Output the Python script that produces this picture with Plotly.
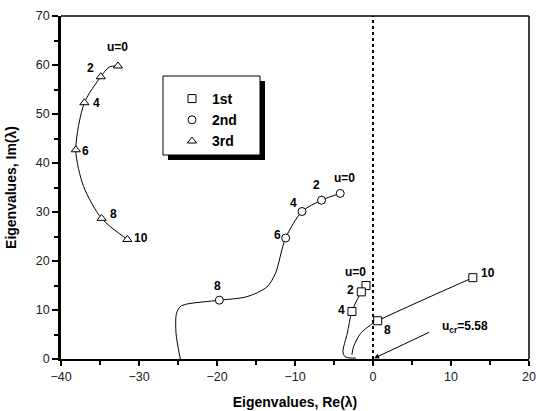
import plotly.graph_objects as go

# ---- data ----
# markers (u = 0,2,4,...)
m1_x = [-0.9, -1.5, -2.7, 0.6, 12.8]
m1_y = [15.0, 13.7, 9.7, 7.8, 16.6]
m1_u = ["u=0", "2", "4", "8", "10"]

m2_x = [-4.2, -6.6, -9.1, -11.2, -19.7]
m2_y = [33.8, 32.4, 30.1, 24.7, 12.0]
m2_u = ["u=0", "2", "4", "6", "8"]

m3_x = [-32.7, -34.9, -37.0, -38.1, -34.8, -31.5]
m3_y = [59.8, 57.6, 52.3, 42.7, 28.7, 24.4]
m3_u = ["u=0", "2", "4", "6", "8", "10"]

# continuous loci
c1a_x = [-0.9, -1.5, -2.7, -3.3, -3.85, -3.6, -2.9, -2.2]
c1a_y = [15.0, 13.7, 9.7, 5.2, 1.5, 0.5, 0.2, 0.2]
c1b_x = [-2.7, -2.5, -1.6, -0.35, 0.6, 12.8]
c1b_y = [0.9, 2.5, 5.2, 6.9, 7.8, 16.6]

c2_x = [-4.2, -6.6, -9.1, -11.2, -12.5, -13.6, -16.2, -19.7, -23.9, -24.7, -25.2, -25.25, -24.7]
c2_y = [33.8, 32.4, 30.1, 24.7, 17.5, 14.7, 12.7, 12.0, 11.2, 10.7, 9.3, 5.2, 0.0]

c3_x = [-32.7, -33.8, -34.9, -37.0, -38.1, -37.1, -34.8, -31.5]
c3_y = [59.8, 59.6, 57.6, 52.3, 42.7, 35.2, 28.7, 24.4]

# label positions
l1_x = [-2.3, -2.9, -4.1, 1.9, 14.8]
l1_y = [17.8, 14.1, 10.0, 5.9, 17.5]
l2_x = [-3.6, -7.3, -10.2, -12.3, -19.9]
l2_y = [36.9, 35.5, 31.8, 25.3, 14.9]
l3_x = [-32.8, -36.2, -35.5, -36.8, -33.3, -29.7]
l3_y = [63.7, 59.3, 52.2, 42.4, 29.6, 24.6]

ucr_text = "u<sub>cr</sub>=5.58"
ucr_xy = (11.8, 6.6)
ucr_tail = (7.4, 5.6)

FONT = "Liberation Sans, Arial, sans-serif"

fig = go.Figure()
line_style = dict(color="black", width=1, shape="spline", smoothing=0.8)
for cx, cy in [(c1a_x, c1a_y), (c1b_x, c1b_y), (c2_x, c2_y), (c3_x, c3_y)]:
    fig.add_trace(go.Scatter(x=cx, y=cy, mode="lines", line=line_style,
                             showlegend=False, hoverinfo="skip"))

for mx, my, sym, name in [(m1_x, m1_y, "square", "1st"),
                          (m2_x, m2_y, "circle", "2nd"),
                          (m3_x, m3_y, "triangle-up", "3rd")]:
    fig.add_trace(go.Scatter(x=mx, y=my, mode="markers", name=name,
                             marker=dict(symbol=sym, size=8, color="white",
                                         line=dict(color="black", width=1))))

ann = []
for lx, ly, lt in [(l1_x, l1_y, m1_u), (l2_x, l2_y, m2_u), (l3_x, l3_y, m3_u)]:
    for x, y, t in zip(lx, ly, lt):
        ann.append(dict(x=x, y=y, text="<b>%s</b>" % t, showarrow=False,
                        font=dict(family=FONT, size=12, color="black")))
ann.append(dict(x=ucr_xy[0], y=ucr_xy[1], text="<b>%s</b>" % ucr_text, showarrow=False,
                font=dict(family=FONT, size=12, color="black")))
ann.append(dict(x=0.15, y=0.15, ax=ucr_tail[0], ay=ucr_tail[1], axref="x", ayref="y",
                xref="x", yref="y", text="", showarrow=True, arrowhead=2,
                arrowsize=1, arrowwidth=1, arrowcolor="black"))

def px(xp):
    return (xp - 61) / 468.0

def py(yp):
    return (359 - yp) / 343.0

shapes = [
    dict(type="line", xref="x", yref="y", x0=0, x1=0, y0=0, y1=70,
         line=dict(color="black", width=2, dash="dot")),
    dict(type="line", xref="paper", yref="paper", x0=0, x1=1, y0=1, y1=1,
         line=dict(color="black", width=1.5)),
    dict(type="line", xref="paper", yref="paper", x0=1, x1=1, y0=0, y1=1,
         line=dict(color="black", width=1.5)),
    dict(type="rect", xref="paper", yref="paper", x0=px(168), x1=px(265),
         y0=py(160), y1=py(81), fillcolor="black", line=dict(width=0)),
    dict(type="rect", xref="paper", yref="paper", x0=px(163), x1=px(260),
         y0=py(155), y1=py(76), fillcolor="white", line=dict(color="black", width=1)),
]

fig.update_layout(
    width=536, height=411,
    margin=dict(l=61, r=7, t=16, b=52, autoexpand=False),
    paper_bgcolor="white", plot_bgcolor="white",
    font=dict(family=FONT, size=12, color="#222"),
    annotations=ann, shapes=shapes,
    showlegend=True,
    legend=dict(x=px(172), y=py(83), xanchor="left", yanchor="top",
                bgcolor="rgba(0,0,0,0)", borderwidth=0,
                font=dict(family=FONT, size=14, color="black", weight="bold")),
)
fig.update_xaxes(range=[-40, 20], dtick=10, tick0=0, showgrid=False, zeroline=False,
                 automargin=False,
                 showline=True, linecolor="black", linewidth=2,
                 ticks="outside", ticklen=5, tickwidth=1.5, tickcolor="black",
                 minor=dict(dtick=5, ticks="outside", ticklen=4, tickcolor="black", showgrid=False),
                 tickfont=dict(family=FONT, size=12.5, color="#222"),
                 title=dict(text="<b>Eigenvalues, Re(λ)</b>", standoff=14,
                            font=dict(family=FONT, size=14, color="black")))
fig.update_yaxes(range=[0, 70], dtick=10, tick0=0, showgrid=False, zeroline=False,
                 automargin=False,
                 showline=True, linecolor="black", linewidth=2.5,
                 ticks="outside", ticklen=6, tickwidth=1.5, tickcolor="black",
                 minor=dict(dtick=5, ticks="outside", ticklen=4, tickcolor="black", showgrid=False),
                 tickfont=dict(family=FONT, size=12.5, color="#222"),
                 title=dict(text="<b>Eigenvalues, Im(λ)</b>", standoff=16,
                            font=dict(family=FONT, size=14, color="black")))

fig.write_html("out.html")
